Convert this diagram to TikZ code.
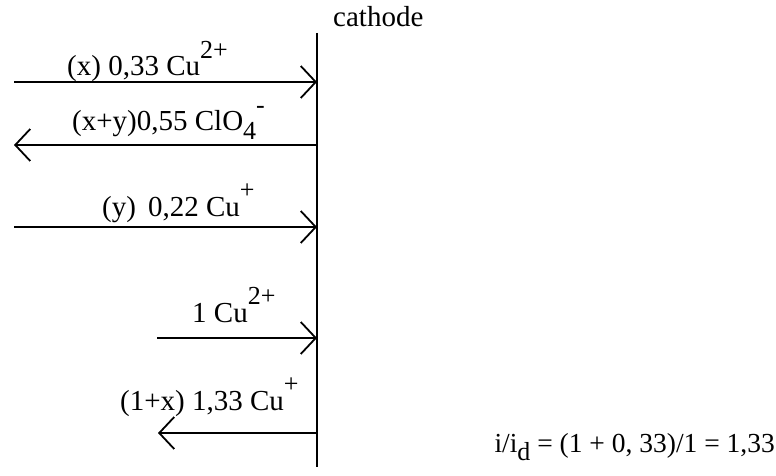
\documentclass[tikz,border=0pt]{standalone}
\usepackage{fontspec}
\setmainfont{Liberation Serif}
\usetikzlibrary{arrows.meta}
\newcommand{\supx}[1]{\raisebox{0.6em}{\fontsize{26}{26}\selectfont #1}}
\newcommand{\subx}[1]{\raisebox{-0.3em}{\fontsize{26}{26}\selectfont #1}}
\tikzset{
  lbl/.style={anchor=base west, inner sep=0pt, font=\fontsize{29}{30}\selectfont},
  flux/.style={line width=1.8pt, -{Straight Barb[length=15pt, width=32pt, line width=1.8pt]}},
  wall/.style={line width=1.8pt}
}
\begin{document}
\begin{tikzpicture}[x=1pt, y=-1pt]
\useasboundingbox (0,0) rectangle (776,476);
% cathode line
\coordinate (ctop) at (317,33);
\coordinate (cbot) at (317,467);
\draw[wall] (ctop) -- (cbot);
\node[lbl] (cath) at (333,27) {cathode};
% arrow endpoints
\coordinate (a1s) at (14,82);   \coordinate (a1e) at (317,82);
\coordinate (a2s) at (317,145); \coordinate (a2e) at (14,145);
\coordinate (a3s) at (14,227);  \coordinate (a3e) at (317,227);
\coordinate (a4s) at (157,338); \coordinate (a4e) at (317,338);
\coordinate (a5s) at (317,433); \coordinate (a5e) at (158,433);
\draw[flux] (a1s) -- (a1e);
\draw[flux] (a2s) -- (a2e);
\draw[flux] (a3s) -- (a3e);
\draw[flux] (a4s) -- (a4e);
\draw[flux] (a5s) -- (a5e);
% labels
\node[lbl] (l1) at (67,76) {(x) 0,33 Cu\supx{2+}};
\node[lbl] (l2) at (72,131) {(x+y)0,55 ClO\subx{4}\supx{-}};
\node[lbl] (l3) at (102,216) {(y)\, 0,22 Cu\supx{+}};
\node[lbl] (l4) at (192,322) {1 Cu\supx{2+}};
\node[lbl] (l5) at (120,410) {(1+x) 1,33 Cu\supx{+}};
\node[lbl, anchor=base east, font=\fontsize{27.5}{29}\selectfont] (eq) at (775,452) {i/i\subx{d} = (1 + 0, 33)/1 = 1,33};
\end{tikzpicture}
\end{document}
